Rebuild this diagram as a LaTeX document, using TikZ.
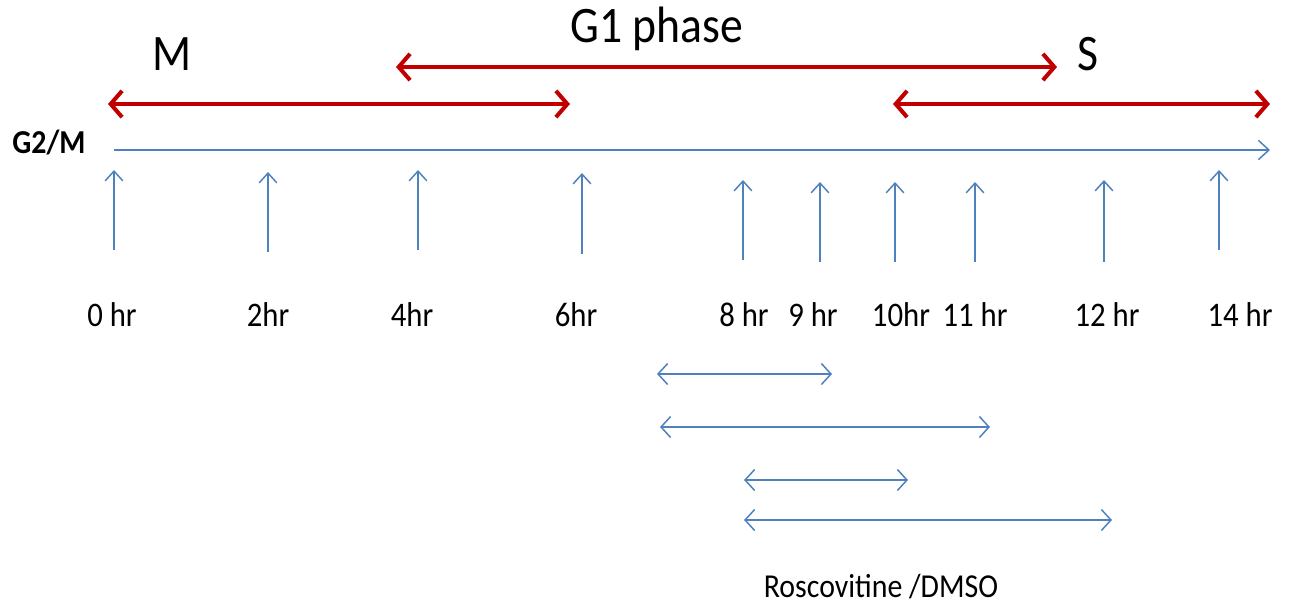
\documentclass[tikz,border=0pt]{standalone}
\usepackage{fontspec}
\setmainfont{Carlito}
\usepackage{tikz}
\usetikzlibrary{arrows.meta}
\definecolor{phasered}{RGB}{192,0,0}
\definecolor{lineblue}{RGB}{79,129,189}
% text in the figure is a little taller than wide
\newcommand{\tallText}[1]{\scalebox{1}[1.12]{#1}}
\tikzstyle{phase} = [draw=phasered, line width=2.3pt,
    {Straight Barb[length=6.5pt, width=15pt]}-{Straight Barb[length=6.5pt, width=15pt]}]
\tikzstyle{timeline} = [draw=lineblue, line width=0.85pt,
    -{Straight Barb[length=6pt, width=11pt]}]
\tikzstyle{tick} = [draw=lineblue, line width=0.85pt,
    -{Straight Barb[length=5.5pt, width=10pt]}]
\tikzstyle{treat} = [draw=lineblue, line width=0.85pt,
    {Straight Barb[length=5.5pt, width=12pt]}-{Straight Barb[length=5.5pt, width=12pt]}]
\tikzstyle{phaselabel} = [anchor=base, inner sep=0pt, font=\fontsize{26}{30}\selectfont]
\tikzstyle{hrlabel} = [anchor=base, inner sep=0pt, font=\fontsize{17.5}{20}\selectfont]

\begin{document}
\begin{tikzpicture}[x=0.02cm, y=-0.02cm]
    \useasboundingbox (0,0) rectangle (1290,606);
    % We start by placing the phase labels
    \node [phaselabel] (m) at (172,70) {\tallText{M}};
    \node [phaselabel] (g1) at (657,42) {\tallText{G1 phase}};
    \node [phaselabel] (s) at (1088,70) {\tallText{S}};
    \node [anchor=base, inner sep=0pt, font=\fontsize{17}{20}\selectfont\bfseries] (g2m) at (49,153) {\tallText{G2/M}};
    % Ends of the phase arrows
    \coordinate (g1start) at (396,67);
    \coordinate (g1end) at (1057,67);
    \coordinate (mstart) at (108,104);
    \coordinate (mend) at (570,104);
    \coordinate (sstart) at (893,104);
    \coordinate (send) at (1270,104);
    \draw [phase] (g1start) -- (g1end);
    \draw [phase] (mstart) -- (mend);
    \draw [phase] (sstart) -- (send);
    % The time line
    \coordinate (tstart) at (114,150);
    \coordinate (tend) at (1270,150);
    \draw [timeline] (tstart) -- (tend);
    % Sampling times
    \node [hrlabel] (h0) at (112,326) {\tallText{0 hr}};
    \node [hrlabel] (h2) at (268,326) {\tallText{2hr}};
    \node [hrlabel] (h4) at (412,326) {\tallText{4hr}};
    \node [hrlabel] (h6) at (576,326) {\tallText{6hr}};
    \node [hrlabel] (h8) at (744,326) {\tallText{8 hr}};
    \node [hrlabel] (h9) at (813,326) {\tallText{9 hr}};
    \node [hrlabel] (h10) at (901,326) {\tallText{10hr}};
    \node [hrlabel] (h11) at (975,326) {\tallText{11 hr}};
    \node [hrlabel] (h12) at (1107,326) {\tallText{12 hr}};
    \node [hrlabel] (h14) at (1240,326) {\tallText{14 hr}};
    \coordinate (b0) at (114,250);  \coordinate (a0) at (114,170);
    \coordinate (b2) at (268,252);  \coordinate (a2) at (268,172);
    \coordinate (b4) at (418,250);  \coordinate (a4) at (418,170);
    \coordinate (b6) at (582,254);  \coordinate (a6) at (582,173);
    \coordinate (b8) at (743,260);  \coordinate (a8) at (743,180);
    \coordinate (b9) at (820,262);  \coordinate (a9) at (820,182);
    \coordinate (b10) at (895,262); \coordinate (a10) at (895,182);
    \coordinate (b11) at (975,262); \coordinate (a11) at (975,182);
    \coordinate (b12) at (1104,262); \coordinate (a12) at (1104,180);
    \coordinate (b14) at (1219,250); \coordinate (a14) at (1219,170);
    \draw [tick] (b0) -- (a0);
    \draw [tick] (b2) -- (a2);
    \draw [tick] (b4) -- (a4);
    \draw [tick] (b6) -- (a6);
    \draw [tick] (b8) -- (a8);
    \draw [tick] (b9) -- (a9);
    \draw [tick] (b10) -- (a10);
    \draw [tick] (b11) -- (a11);
    \draw [tick] (b12) -- (a12);
    \draw [tick] (b14) -- (a14);
    % Treatment windows
    \coordinate (r1a) at (657,374); \coordinate (r1b) at (832,374);
    \coordinate (r2a) at (660,427); \coordinate (r2b) at (990,427);
    \coordinate (r3a) at (744,480); \coordinate (r3b) at (908,480);
    \coordinate (r4a) at (744,520); \coordinate (r4b) at (1112,520);
    \draw [treat] (r1a) -- (r1b);
    \draw [treat] (r2a) -- (r2b);
    \draw [treat] (r3a) -- (r3b);
    \draw [treat] (r4a) -- (r4b);
    \node [anchor=base, inner sep=0pt, font=\fontsize{17}{20}\selectfont] (drug) at (881,597) {\tallText{Roscovitine /DMSO}};
\end{tikzpicture}
\end{document}
